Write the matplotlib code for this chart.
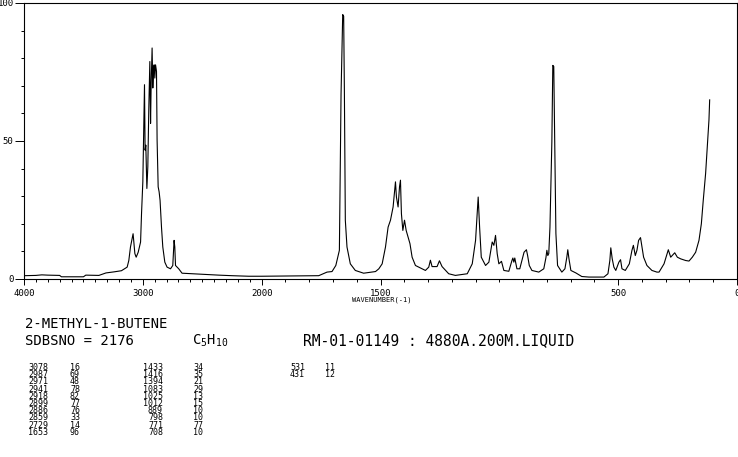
import numpy as np
import matplotlib.pyplot as plt
from matplotlib.ticker import FixedLocator, NullFormatter

# spectrum (wavenumber in cm-1, relative intensity)
wavenumber = [4000, 3900, 3850, 3800, 3700, 3685, 3500, 3480, 3370, 3310,
              3240, 3180, 3150, 3132, 3118, 3104, 3082, 3067, 3056, 3039,
              3019, 3011, 3000, 2994, 2986, 2981, 2975, 2966, 2958, 2950,
              2941, 2935, 2930, 2922, 2916, 2910, 2905, 2899, 2893, 2885,
              2880, 2871, 2863, 2855, 2843, 2832, 2815, 2796, 2767, 2748,
              2737, 2731, 2725, 2698, 2670, 2586, 2473, 2361, 2250, 2109,
              2000, 1850, 1760, 1725, 1704, 1688, 1673, 1666, 1659, 1655,
              1652, 1648, 1641, 1627, 1606, 1571, 1521, 1507, 1493, 1479,
              1468, 1458, 1447, 1437, 1433, 1426, 1420, 1416, 1412, 1406,
              1399, 1392, 1384, 1376, 1367, 1353, 1325, 1311, 1297, 1290,
              1283, 1262, 1252, 1241, 1213, 1185, 1135, 1114, 1100, 1089,
              1083, 1076, 1058, 1044, 1030, 1023, 1016, 1009, 1002, 991,
              981, 960, 947, 943, 939, 935, 926, 914, 905, 896,
              886, 881, 874, 863, 834, 813, 804, 800, 796, 792,
              787, 779, 775, 771, 766, 762, 755, 737, 724, 716,
              712, 707, 699, 678, 653, 623, 560, 543, 535, 531,
              525, 518, 510, 497, 490, 484, 470, 453, 442, 436,
              428, 421, 414, 406, 400, 393, 379, 358, 337, 328,
              307, 289, 279, 262, 251, 237, 216, 202, 188, 174,
              160, 150, 142, 132, 125, 118, 115]
intensity = [1.2, 1.3, 1.5, 1.4, 1.3, 0.8, 0.8, 1.4, 1.3, 2.2,
             2.6, 3.0, 3.8, 4.3, 6.7, 11.6, 16.4, 9.2, 7.9, 9.7,
             13.4, 23.7, 35.2, 51.0, 70.4, 46.7, 48.5, 32.8, 40.7, 61.3,
             78.8, 56.4, 70.4, 83.7, 69.2, 75.8, 77.6, 72.8, 77.6, 75.2,
             50.4, 33.4, 31.6, 28.5, 18.8, 11.6, 6.1, 4.3, 3.7, 4.9,
             14.0, 11.6, 4.9, 3.7, 2.1, 1.9, 1.6, 1.4, 1.2, 1.0,
             1.0, 1.1, 1.2, 2.5, 2.7, 4.9, 10.4, 67.0, 95.8, 95.2,
             68.5, 21.3, 11.6, 5.5, 3.1, 2.1, 2.7, 3.7, 5.5, 11.6,
             18.8, 21.3, 26.1, 35.2, 29.7, 26.1, 33.4, 35.8, 23.7, 17.6,
             21.3, 17.6, 15.2, 12.8, 7.9, 4.9, 3.7, 3.1, 4.3, 6.8,
             4.5, 4.5, 6.6, 4.5, 1.9, 1.3, 1.9, 5.5, 14.0, 29.7,
             18.8, 7.9, 4.9, 6.1, 13.4, 12.2, 15.8, 9.2, 5.5, 6.4,
             3.1, 2.8, 6.7, 7.6, 6.1, 7.6, 3.7, 3.7, 6.7, 9.7,
             10.6, 8.5, 4.9, 3.1, 2.5, 3.7, 7.7, 10.4, 8.5, 9.2,
             18.8, 49.7, 77.4, 77.0, 43.0, 16.5, 4.9, 2.5, 3.7, 7.9,
             10.6, 7.3, 3.1, 2.2, 0.9, 0.7, 0.7, 1.9, 6.7, 11.3,
             7.3, 4.3, 3.1, 6.1, 7.0, 3.7, 3.1, 5.5, 10.4, 12.2,
             8.5, 10.4, 14.0, 15.0, 11.6, 7.9, 4.9, 3.1, 2.5, 2.5,
             5.5, 10.6, 7.9, 9.5, 7.9, 7.3, 6.7, 6.5, 7.9, 9.7,
             14.0, 20.0, 28.5, 38.3, 47.9, 57.6, 64.9]

# peak list printed under the chart
peak_wn = [3078, 2987, 2971, 2941, 2918, 2899, 2886, 2859, 2729, 1653,
           1433, 1416, 1394, 1083, 1025, 1012, 889, 798, 771, 708,
           531, 431]
peak_int = [16, 69, 48, 78, 82, 77, 76, 33, 14, 96,
            34, 35, 21, 29, 13, 15, 10, 10, 77, 10,
            11, 12]

x_ticks = [4000, 3000, 2000, 1500, 500, 0]
y_ticks = [0, 50, 100]

W, H = 738, 457
MONO = 'DejaVu Sans Mono'


# x axis: 1000 cm-1 per unit above 2000, 500 cm-1 per unit below
def fwd(w):
    w = np.asarray(w, dtype=float)
    return np.where(w <= 2000, w / 500.0, 4 + (w - 2000) / 1000.0)


def inv(u):
    u = np.asarray(u, dtype=float)
    return np.where(u <= 4, u * 500.0, 2000 + (u - 4) * 1000.0)


def ftext(x, y, s, **kw):
    fig.text(x / W, 1 - y / H, s, family=MONO, color='black', **kw)


plt.rcParams['mathtext.default'] = 'regular'

fig = plt.figure(figsize=(W / 100, H / 100), dpi=100)
ax = fig.add_axes([24 / W, 1 - 279 / H, 713 / W, 276 / H])

ax.plot(wavenumber, intensity, color='black', lw=0.8)
ax.set_xscale('function', functions=(fwd, inv))
ax.set_xlim(4000, 0)
ax.set_ylim(0, 100)

ax.xaxis.set_major_locator(FixedLocator(x_ticks))
ax.set_xticklabels([str(t) for t in x_ticks], family=MONO, fontsize=6.5)
ax.xaxis.set_minor_locator(FixedLocator([t for t in range(0, 4001, 100) if t not in x_ticks]))
ax.xaxis.set_minor_formatter(NullFormatter())
ax.yaxis.set_major_locator(FixedLocator(y_ticks))
ax.set_yticklabels([str(t) for t in y_ticks], family=MONO, fontsize=6.5)
ax.yaxis.set_minor_locator(FixedLocator(range(10, 100, 10)))

ax.tick_params(axis='x', which='major', direction='out', length=4, width=0.7, pad=3)
ax.tick_params(axis='x', which='minor', direction='out', length=2.5, width=0.7)
ax.tick_params(axis='y', which='major', direction='out', length=6.5, width=0.7, pad=1)
ax.tick_params(axis='y', which='minor', direction='out', length=2, width=0.7)
for sp in ax.spines.values():
    sp.set_linewidth(0.8)

ftext(382, 300, 'WAVENUMBER(-1)', fontsize=5, ha='center', va='center')

# header lines
ftext(25, 324, '2-METHYL-1-BUTENE', fontsize=10, va='center')
ftext(25, 341, 'SDBSNO = 2176', fontsize=10, va='center')
ftext(192, 341, r'C$_5$H$_{10}$', fontsize=10, va='center')
ftext(303, 341, 'RM-01-01149 : 4880A.200M.LIQUID', fontsize=10.5, va='center')

# peak table, 10 rows per column group
groups = [(48, 70), (163, 193), (305, 325)]
for i, (wn, val) in enumerate(zip(peak_wn, peak_int)):
    g, r = divmod(i, 10)
    xr, xi = groups[g]
    y = 367.5 + r * 7.2
    ftext(xr, y, str(wn), fontsize=6, ha='right', va='center')
    ftext(xi, y, str(val), fontsize=6, ha='left', va='center')

fig.savefig('out.png', dpi=100)
